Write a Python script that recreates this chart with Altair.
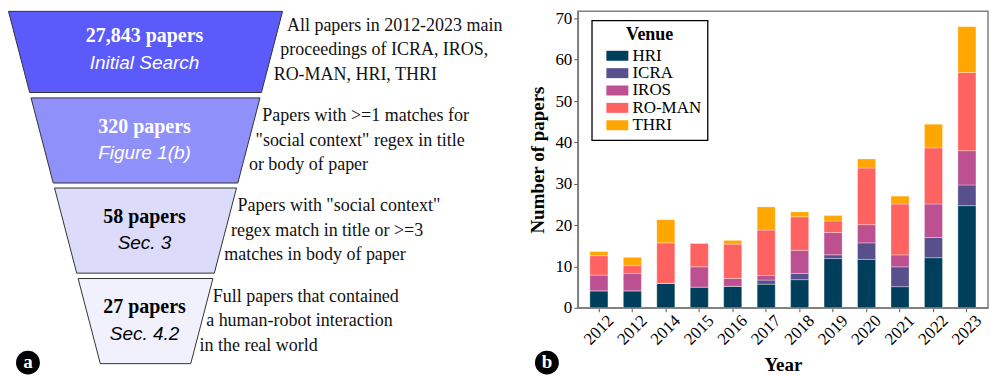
import altair as alt
import pandas as pd

# ---------------- data: funnel (panel a) ----------------
stage_counts = ["27,843 papers", "320 papers", "58 papers", "27 papers"]
stage_sources = ["Initial Search", "Figure 1(b)", "Sec. 3", "Sec. 4.2"]
stage_fill = ["#5b5bfc", "#9090fb", "#dcdcfa", "#f1f1fd"]
stage_text_color = ["#ffffff", "#ffffff", "#000000", "#000000"]
stage_desc = [
    ["All papers in 2012-2023 main", "proceedings of ICRA, IROS,", "RO-MAN, HRI, THRI"],
    ["Papers with >=1 matches for", "\"social context\" regex in title", "or body of paper"],
    ["Papers with \"social context\"", "regex match in title or  >=3", "matches in body of paper"],
    ["Full papers that contained", "a human-robot interaction", "in the real world"],
]
panel_tags = ["a", "b"]

# ---------------- data: stacked bars (panel b) ----------------
years = ["2012", "2013", "2014", "2015", "2016", "2017", "2018", "2019", "2020", "2021", "2022", "2023"]
year_labels = ["2012", "2012", "2014", "2015", "2016", "2017", "2018", "2019", "2020", "2021", "2022", "2023"]
venues = ["HRI", "ICRA", "IROS", "RO-MAN", "THRI"]
venue_colors = ["#003f5c", "#58508d", "#bc5090", "#ff6361", "#ffa600"]
hri = [4.1, 4.1, 5.9, 5.0, 5.2, 5.7, 6.8, 11.9, 11.7, 5.1, 12.1, 24.7]
icra = [0.0, 0.0, 0.0, 0.0, 0.0, 1.0, 1.5, 0.9, 4.0, 4.8, 4.9, 5.0]
iros = [3.8, 4.2, 0.0, 4.9, 1.9, 1.1, 5.6, 5.4, 4.4, 2.9, 8.1, 8.3]
roman = [4.7, 1.9, 9.8, 5.7, 8.3, 11.0, 8.1, 2.8, 13.7, 12.3, 13.6, 18.9]
thri = [1.0, 2.0, 5.6, 0.0, 0.9, 5.6, 1.2, 1.3, 2.2, 1.9, 5.7, 11.1]

# ---------------- layout constants (panel a) ----------------
LW, LH = 560, 368
F_CENTER = 137.8
F_TOP_HALF = 137.3
F_SLOPE = 0.2606
STAGE_TOPS = [-4.0, 86.7, 177.0, 267.7]
STAGE_H = 85.3
DESC_X0, DESC_B0, DESC_SLOPE = 279.0, 21.5, 0.2734
TAG_R = 13.5
tag_pos = [(20, 352), (540, 352)]


def half_w(y):
    return F_TOP_HALF - F_SLOPE * y


shape_rows, count_rows, desc_rows = [], [], []
for i in range(len(stage_counts)):
    top = STAGE_TOPS[i]
    bot = top + STAGE_H
    for yy in (max(top, 0.0), bot):
        shape_rows.append(dict(stage=i, y=yy, xl=F_CENTER - half_w(yy), xr=F_CENTER + half_w(yy),
                               fill=stage_fill[i]))
    count_rows.append(dict(stage=i, cx=F_CENTER - 1, y1=top + 35.0, y2=top + 61.5,
                           count=stage_counts[i], source=stage_sources[i], tcolor=stage_text_color[i]))
    for k, line in enumerate(stage_desc[i]):
        by = top + 23.5 + 24.4 * k
        desc_rows.append(dict(stage=i, line=line, y=by,
                              x=DESC_X0 - DESC_SLOPE * (by - DESC_B0)))

shape_df = pd.DataFrame(shape_rows)
count_df = pd.DataFrame(count_rows)
desc_df = pd.DataFrame(desc_rows)
tag_df = pd.DataFrame(dict(tag=panel_tags, x=[p[0] for p in tag_pos], y=[p[1] for p in tag_pos]))

xs = alt.Scale(domain=[0, LW], nice=False, zero=False)
ys = alt.Scale(domain=[0, LH], reverse=True, nice=False, zero=False)

funnel = alt.Chart(shape_df).mark_area(orient="horizontal", stroke="#333333", strokeWidth=1,
                                       strokeJoin="round").encode(
    y=alt.Y("y:Q", scale=ys, axis=None),
    x=alt.X("xl:Q", scale=xs, axis=None),
    x2="xr:Q",
    fill=alt.Fill("fill:N", scale=None),
    detail="stage:N",
)
counts = alt.Chart(count_df).mark_text(font="Liberation Serif", fontWeight="bold", fontSize=20,
                                       align="center", baseline="alphabetic").encode(
    x=alt.X("cx:Q", scale=xs, axis=None), y=alt.Y("y1:Q", scale=ys, axis=None),
    text="count:N", color=alt.Color("tcolor:N", scale=None))
sources = alt.Chart(count_df).mark_text(font="Liberation Sans", fontStyle="italic", fontSize=19,
                                        align="center", baseline="alphabetic").encode(
    x=alt.X("cx:Q", scale=xs, axis=None), y=alt.Y("y2:Q", scale=ys, axis=None),
    text="source:N", color=alt.Color("tcolor:N", scale=None))
descs = alt.Chart(desc_df).mark_text(font="Liberation Serif", fontSize=18, align="left",
                                     baseline="alphabetic", color="#111111").encode(
    x=alt.X("x:Q", scale=xs, axis=None), y=alt.Y("y:Q", scale=ys, axis=None), text="line:N")
tag_circles = alt.Chart(tag_df).mark_circle(size=3.1416 * TAG_R * TAG_R, color="#000000", opacity=1).encode(
    x=alt.X("x:Q", scale=xs, axis=None), y=alt.Y("y:Q", scale=ys, axis=None))
tag_text = alt.Chart(tag_df).mark_text(font="Liberation Serif", fontWeight="bold", fontSize=19,
                                       color="#ffffff", align="center", baseline="middle", dy=-1).encode(
    x=alt.X("x:Q", scale=xs, axis=None), y=alt.Y("y:Q", scale=ys, axis=None), text="tag:N")

left = alt.layer(funnel, counts, sources, descs, tag_circles, tag_text).properties(width=LW, height=LH)

# ---------------- panel b ----------------
series = dict(zip(venues, [hri, icra, iros, roman, thri]))
bar_rows = []
for v_i, v in enumerate(venues):
    for y_i, yr in enumerate(years):
        bar_rows.append(dict(year=yr, venue=v, vorder=v_i, papers=series[v][y_i]))
bar_df = pd.DataFrame(bar_rows)

label_expr = "[" + ",".join("'%s'" % s for s in year_labels) + "][indexof([" + \
    ",".join("'%s'" % s for s in years) + "], datum.value)]"

bars = alt.Chart(bar_df).mark_bar(stroke="#ffffff", strokeWidth=0.7, strokeOpacity=0.45).encode(
    x=alt.X("year:N", sort=years,
            scale=alt.Scale(paddingInner=0.46, paddingOuter=0.36),
            axis=alt.Axis(title="Year", labelAngle=-45, labelAlign="center", labelBaseline="middle",
                          labelExpr=label_expr, labelPadding=18, tickSize=4, titlePadding=8)),
    y=alt.Y("papers:Q", stack="zero",
            scale=alt.Scale(domain=[0, 71.7], nice=False),
            axis=alt.Axis(title="Number of papers", values=[0, 10, 20, 30, 40, 50, 60, 70],
                          grid=False, tickSize=4, labelPadding=2, titlePadding=7)),
    color=alt.Color("venue:N", sort=venues, scale=alt.Scale(domain=venues, range=venue_colors),
                    legend=alt.Legend(title="Venue", orient="none", legendX=585, legendY=9,
                                      direction="vertical", titleAnchor="middle",
                                      titleFont="Liberation Serif", titleFontSize=18,
                                      titleFontWeight="bold", titleColor="#000000", titlePadding=3,
                                      labelFont="Liberation Serif", labelFontSize=17,
                                      labelColor="#000000", labelOffset=6.6,
                                      labelExpr="datum.label + '\u00a0\u00a0\u00a0\u00a0\u00a0'",
                                      symbolType="M-2.2,-1L2.2,-1L2.2,1L-2.2,1Z",
                                      symbolSize=100, symbolStrokeWidth=0, symbolOpacity=1,
                                      symbolOffset=11.1, rowPadding=-0.6, padding=6,
                                      strokeColor="#000000", fillColor="#ffffff", cornerRadius=0)),
    order=alt.Order("vorder:Q", sort="ascending"),
).properties(width=411, height=297,
             view=alt.ViewBackground(stroke="#808080", strokeWidth=1.5))

chart = alt.hconcat(left, bars, spacing=11, bounds="flush").properties(
    padding={"left": 0, "top": 0, "right": 0, "bottom": 0}
).configure_view(
    strokeWidth=0
).configure_axis(
    labelFont="Liberation Serif", labelFontSize=17, labelColor="#000000",
    titleFont="Liberation Serif", titleFontSize=19, titleFontWeight="bold", titleColor="#000000",
    domainColor="#808080", domainWidth=1.5, tickColor="#555555", tickWidth=1,
).configure_legend(strokeWidth=1.3)

chart.save("out.html", embed_options={"renderer": "svg", "actions": False})
